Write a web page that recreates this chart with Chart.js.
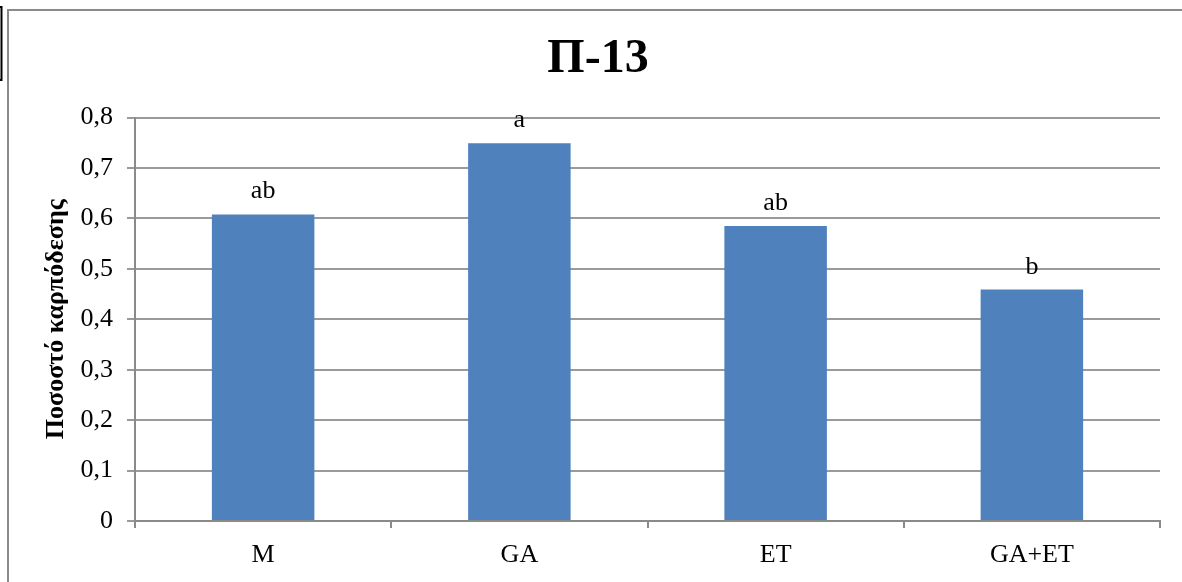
<!DOCTYPE html>
<html>
<head>
<meta charset="utf-8">
<script src="https://cdn.jsdelivr.net/npm/chart.js@4/dist/chart.umd.min.js"></script>
<style>
html,body{margin:0;padding:0;background:#fff;}
#wrap{width:1182px;height:582px;position:relative;}
</style>
</head>
<body>
<div id="wrap"><canvas id="c" width="1182" height="582"></canvas></div>
<script>
const chartTitle = 'Π-13';
const yAxisTitle = 'Ποσοστό καρπόδεσης';
const categories = ['M', 'GA', 'ET', 'GA+ET'];
const values = [0.608, 0.749, 0.585, 0.459];
const letters = ['ab', 'a', 'ab', 'b'];
const yTicks = {min: 0, max: 0.8, step: 0.1};

const serif = "'Liberation Serif', serif";

const framePlugin = {
  id: 'frame',
  beforeDraw(chart) {
    const ctx = chart.ctx;
    ctx.save();
    ctx.fillStyle = '#fff';
    ctx.fillRect(0, 0, chart.width, chart.height);
    ctx.strokeStyle = '#8a8a8a';
    ctx.lineWidth = 2;
    ctx.beginPath();
    ctx.moveTo(8, chart.height + 5);
    ctx.lineTo(8, 10);
    ctx.lineTo(chart.width + 5, 10);
    ctx.stroke();
    ctx.strokeStyle = '#000';
    ctx.lineWidth = 2;
    ctx.strokeRect(-10, 7, 11.5, 73);
    ctx.restore();
  }
};

const letterPlugin = {
  id: 'letters',
  afterDatasetsDraw(chart) {
    const ctx = chart.ctx;
    const meta = chart.getDatasetMeta(0);
    ctx.save();
    ctx.font = '26px ' + serif;
    ctx.fillStyle = '#000';
    ctx.textAlign = 'center';
    ctx.textBaseline = 'alphabetic';
    meta.data.forEach((bar, i) => {
      ctx.fillText(letters[i], bar.x, bar.y - 16);
    });
    ctx.restore();
  }
};

new Chart(document.getElementById('c'), {
  type: 'bar',
  data: {
    labels: categories,
    datasets: [{
      data: values,
      backgroundColor: '#4F81BD',
      borderWidth: 0,
      categoryPercentage: 0.4,
      barPercentage: 1.0
    }]
  },
  options: {
    responsive: false,
    animation: false,
    devicePixelRatio: 1,
    layout: {padding: {left: 36, right: 22, top: 31, bottom: 0}},
    plugins: {
      legend: {display: false},
      tooltip: {enabled: false},
      title: {
        display: true,
        text: chartTitle,
        color: '#000',
        font: {family: serif, size: 48, weight: 'bold', lineHeight: 1.2},
        padding: {top: 0, bottom: 29}
      }
    },
    scales: {
      x: {
        grid: {drawOnChartArea: false, drawTicks: true, tickLength: 7, color: '#8a8a8a', lineWidth: 2, offset: true},
        border: {display: true, color: '#8a8a8a', width: 2},
        ticks: {color: '#000', font: {family: serif, size: 26}, padding: 12},
        afterFit(s) { s.height = 61; }
      },
      y: {
        min: yTicks.min,
        max: yTicks.max,
        grid: {drawOnChartArea: true, drawTicks: true, tickLength: 8, color: '#9a9a9a', lineWidth: 2},
        border: {display: true, color: '#8a8a8a', width: 2},
        ticks: {
          stepSize: yTicks.step,
          color: '#000',
          font: {family: serif, size: 26},
          padding: 14,
          callback: v => (Math.round(v * 10) / 10).toString().replace('.', ',')
        },
        title: {
          display: true,
          text: yAxisTitle,
          color: '#000',
          font: {family: serif, size: 26, weight: 'bold', lineHeight: 1.2},
          padding: {top: 5, bottom: 0}
        },
        afterFit(s) { s.width = 99; }
      }
    }
  },
  plugins: [framePlugin, letterPlugin]
});
</script>
</body>
</html>
